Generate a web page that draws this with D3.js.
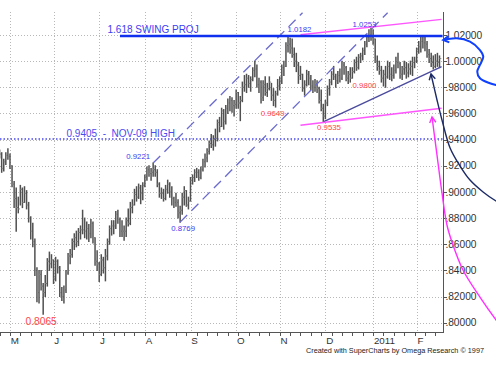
<!DOCTYPE html>
<html><head><meta charset="utf-8">
<script src="https://cdn.jsdelivr.net/npm/d3@7"></script>
<style>
body{margin:0;background:#fff;}
svg{display:block;font-family:Arial,"Liberation Sans",sans-serif;}
</style>
</head><body>
<svg id="c" width="496" height="366"></svg>
<script>
// ---------- DATA (AUD/USD daily bars, first bar = Mon 2010-04-26, weekdays only) ----------
const startDate = "2010-04-26";
const highs = [
 .9320,.9300,.9250,.9300,.9330, .9290,.9200,.9080,.9030,.8960, .9050,.9030,.9040,.9010,.8920,
 .8810,.8760,.8640,.8420,.8400, .8400,.8300,.8360,.8490,.8540, .8520,.8480,.8500,.8480,.8430,
 .8270,.8280,.8400,.8530,.8560, .8640,.8680,.8700,.8720,.8740, .8860,.8800,.8770,.8750,.8790,
 .8770,.8650,.8550,.8460,.8520, .8500,.8560,.8640,.8740,.8780, .8780,.8850,.8860,.8800,.8780,
 .8740,.8800,.8870,.8920,.8940, .9020,.9040,.9060,.9050,.9070, .9130,.9190,.9200,.9180,.9221,
 .9200,.9170,.9070,.9030,.9020, .9050,.9090,.9070,.9040,.8960, .8990,.8940,.8890,.8990,.9040,
 .9010,.8960,.9110,.9130,.9170, .9180,.9170,.9190,.9250,.9290, .9330,.9390,.9440,.9430,.9480,
 .9550,.9570,.9640,.9630,.9660, .9710,.9730,.9720,.9700,.9780, .9760,.9730,.9840,.9890,.9900,
 .9890,.9880,.9950,1.0000,.9970, .9870,.9850,.9850,.9880,.9830, .9880,.9830,.9790,.9770,.9860,
 .9880,.9970,1.0000,1.0140,1.0182, 1.0175,1.0170,1.0100,1.0060,.9990, .9960,.9900,.9850,.9930,.9920,
 .9890,.9850,.9860,.9850,.9800, .9780,.9670,.9700,.9810,.9860, .9920,.9960,.9900,.9920,.9940,
 1.0000,.9990,.9960,.9920,.9950, .9950,1.0010,1.0030,1.0050,1.0060, 1.0100,1.0150,1.0200,1.0240,1.0253,
 1.0240,1.0170,1.0040,1.0000,.9960, .9930,.9960,1.0000,.9990,.9950, .9970,1.0030,1.0060,.9990,.9960,
 1.0000,.9990,.9980,1.0000,1.0030, 1.0030,1.0100,1.0150,1.0180,1.0197, 1.0180,1.0150,1.0090,1.0060,1.0040,
 1.0050,1.0060,1.0040
];
const lows = [
 .9260,.9150,.9160,.9210,.9250, .9180,.9040,.8880,.8700,.8840, .8900,.8880,.8920,.8870,.8770,
 .8640,.8580,.8360,.8160,.8150, .8250,.8065,.8200,.8280,.8400, .8420,.8300,.8320,.8380,.8200,
 .8170,.8150,.8230,.8370,.8450, .8500,.8560,.8580,.8590,.8640, .8680,.8650,.8640,.8620,.8650,
 .8610,.8440,.8400,.8315,.8360, .8380,.8320,.8480,.8600,.8670, .8680,.8720,.8760,.8660,.8660,
 .8630,.8660,.8740,.8750,.8840, .8900,.8930,.8950,.8910,.8940, .9040,.9090,.9120,.9090,.9120,
 .9120,.9040,.8960,.8950,.8930, .8940,.8990,.8960,.8900,.8880, .8890,.8800,.8769,.8830,.8900,
 .8890,.8870,.8930,.9060,.9080, .9110,.9090,.9100,.9160,.9190, .9230,.9290,.9340,.9320,.9350,
 .9390,.9460,.9500,.9480,.9520, .9600,.9620,.9610,.9580,.9640, .9640,.9545,.9690,.9770,.9760,
 .9800,.9770,.9850,.9880,.9800, .9760,.9680,.9700,.9740,.9730, .9780,.9700,.9660,.9649,.9740,
 .9780,.9830,.9890,.9960,1.0070, 1.0060,1.0030,.9960,.9920,.9830, .9860,.9770,.9740,.9810,.9820,
 .9780,.9760,.9770,.9760,.9680, .9620,.9535,.9560,.9660,.9740, .9820,.9860,.9800,.9830,.9840,
 .9860,.9900,.9850,.9830,.9840, .9870,.9910,.9930,.9940,.9990, 1.0010,1.0050,1.0110,1.0150,1.0160,
 1.0130,.9990,.9930,.9900,.9840, .9810,.9800,.9870,.9860,.9850, .9870,.9910,.9950,.9870,.9860,
 .9900,.9870,.9880,.9900,.9890, .9950,.9990,1.0060,1.0070,1.0100, 1.0080,1.0030,.9990,.9960,.9940,
 .9950,.9960,.9950
];
const closes = [
 .9290,.9180,.9230,.9280,.9270, .9200,.9060,.8950,.8880,.8870, .9020,.8920,.8990,.8900,.8800,
 .8700,.8620,.8400,.8230,.8370, .8280,.8230,.8300,.8470,.8450, .8480,.8340,.8470,.8420,.8230,
 .8200,.8250,.8380,.8510,.8520, .8620,.8650,.8620,.8690,.8710, .8710,.8700,.8720,.8680,.8760,
 .8650,.8470,.8450,.8370,.8480, .8420,.8510,.8620,.8720,.8740, .8740,.8830,.8790,.8700,.8700,
 .8700,.8780,.8760,.8880,.8900, .8980,.8960,.9030,.8990,.9050, .9120,.9170,.9140,.9150,.9170,
 .9150,.9060,.8990,.8990,.8950, .9020,.9060,.9000,.8950,.8920, .8920,.8840,.8860,.8960,.9010,
 .8900,.8930,.9090,.9110,.9150, .9150,.9110,.9170,.9230,.9260, .9310,.9370,.9360,.9400,.9410,
 .9530,.9500,.9620,.9540,.9640, .9680,.9700,.9660,.9670,.9760, .9680,.9700,.9800,.9820,.9870,
 .9830,.9860,.9930,.9940,.9820, .9840,.9720,.9820,.9760,.9790, .9840,.9740,.9700,.9750,.9810,
 .9850,.9950,.9960,1.0120,1.0130, 1.0100,1.0050,1.0000,.9970,.9890, .9900,.9790,.9820,.9900,.9870,
 .9810,.9800,.9830,.9790,.9700, .9640,.9580,.9680,.9790,.9840, .9900,.9880,.9850,.9890,.9870,
 .9970,.9950,.9870,.9900,.9870, .9920,.9990,.9950,1.0030,1.0040, 1.0080,1.0130,1.0180,1.0200,1.0180,
 1.0170,1.0000,.9960,.9930,.9870, .9900,.9880,.9960,.9900,.9890, .9930,.9990,.9980,.9900,.9940,
 .9950,.9910,.9940,.9960,.9990, 1.0000,1.0090,1.0110,1.0150,1.0140, 1.0130,1.0050,1.0020,.9990,.9960,
 1.0000,.9990,1.0020
];
const yTicks = [0.80,0.82,0.84,0.86,0.88,0.90,0.92,0.94,0.96,0.98,1.00,1.02];
const monthStarts = ["2010-05-03","2010-06-01","2010-07-01","2010-08-02","2010-09-01","2010-10-01","2010-11-01","2010-12-01","2011-01-03","2011-02-01"];
const monthLabels = ["M","J","J","A","S","O","N","D","2011","F"];
const axisEndDate = "2011-02-17";

// pivot labels
const pivotDates  = ["2010-05-25","2010-08-06","2010-08-25","2010-10-28","2010-11-05","2010-11-30","2010-12-31","2011-01-11"];
const pivotValues = [0.8065,0.9221,0.8769,0.9649,1.0182,0.9535,1.0253,0.9800];
const pivotTexts  = ["0.8065","0.9221","0.8769","0.9649","1.0182","0.9535","1.0253","0.9800"];
const pivotKinds  = ["red","blue","blue","red","blue","red","blue","red"];

// horizontal levels
const swingProjLevel = 1.0192, swingProjStart = "2010-07-15", swingProjText = "1.618 SWING PROJ";
const nov09High = 0.9405, nov09Text = "0.9405  -  NOV-09 HIGH";

// trend lines [date, value] -> [date, value]
const channelUpper = [["2010-08-06",0.9221],["2010-11-16",1.0370]];
const channelLower = [["2010-08-25",0.8769],["2011-01-12",1.0370]];
const supportLine  = [["2010-11-30",0.9535],["2011-02-17",0.9958]];
const pinkUpper    = [["2010-11-15",1.0202],["2011-02-17",1.0320]];
const pinkLower    = [["2010-11-15",0.9510],["2011-02-17",0.9640]];

// hand-drawn arrows: [bar index from first bar, value]
const pinkArrow = [[208.4,.9573],[210.8,.9282],[213.2,.8992],[215.6,.8747],[218.0,.8617],[223.3,.8403],[231.5,.8196],[239.2,.8021],[248.4,.7829]];
const navyArrow = [[207.9,.9902],[210.8,.9703],[213.2,.9550],[217.1,.9336],[221.9,.9198],[226.7,.9091],[233.0,.9000],[239.2,.8931],[246.9,.8869]];
const blueArrow = [[213.8,1.0162],[220.3,1.0175],[226.7,1.0149],[231.5,1.0085],[233.1,1.0034],[231.5,.9971],[230.2,.9919],[231.5,.9869],[236.3,.9831],[239.2,.9818],[246.9,.9795]];

// ---------- DRAW ----------
const svg = d3.select("#c");
const d0 = new Date(startDate + "T00:00:00Z");
function tIdx(s){
  const d = new Date(s + "T00:00:00Z");
  const days = Math.round((d - d0) / 864e5);
  return Math.floor(days / 7) * 5 + Math.min(days % 7, 5);
}
const N = highs.length;
const x = d3.scaleLinear().domain([0, N - 1]).range([-0.4, -0.4 + 2.075 * (N - 1)]);
const y = d3.scaleLinear().domain([0.80, 1.02]).range([322.7, 35]);
const axisX = x(tIdx(axisEndDate)) + 1;
const plotTop = 12, axisY = 331.7;

const grid = svg.append("g").attr("stroke", "#b8b8b8").attr("stroke-dasharray", "1,2").attr("shape-rendering", "crispEdges");
yTicks.forEach(v => {
  const yy = Math.round(y(v)) + 0.5;
  grid.append("line").attr("x1", 0).attr("x2", axisX).attr("y1", yy).attr("y2", yy);
});
monthStarts.forEach(s => {
  const xx = Math.round(x(tIdx(s))) + 0.5;
  grid.append("line").attr("x1", xx).attr("x2", xx).attr("y1", plotTop).attr("y2", axisY);
});

// Nov-09 high dotted line
svg.append("line").attr("x1", 0).attr("x2", axisX).attr("y1", y(nov09High)).attr("y2", y(nov09High))
  .attr("stroke", "#4a4af0").attr("stroke-width", 1.5).attr("stroke-dasharray", "1.5,2");

// bars (high-low-close)
const bars = svg.append("g");
d3.range(N).forEach(i => {
  const xx = x(i);
  bars.append("line").attr("x1", xx).attr("x2", xx).attr("y1", y(highs[i]) - 0.5).attr("y2", y(lows[i]) + 0.5)
    .attr("stroke", "#505050").attr("stroke-width", 1.5);
  bars.append("line").attr("x1", xx).attr("x2", xx + 1.8).attr("y1", y(closes[i])).attr("y2", y(closes[i]))
    .attr("stroke", "#888").attr("stroke-width", 1);
});

function seg(pts, color, w, dash){
  const l = svg.append("line")
    .attr("x1", x(tIdx(pts[0][0]))).attr("y1", y(pts[0][1]))
    .attr("x2", x(tIdx(pts[1][0]))).attr("y2", y(pts[1][1]))
    .attr("stroke", color).attr("stroke-width", w);
  if (dash) l.attr("stroke-dasharray", dash);
}
seg(channelUpper, "#6b6bd0", 1.3, "10,6");
seg(channelLower, "#6b6bd0", 1.3, "10,6");
seg(supportLine, "#4b4b9e", 1.4);
seg(pinkUpper, "#ff55ff", 1.3);
seg(pinkLower, "#ff55ff", 1.3);

// swing projection line
svg.append("line").attr("x1", x(tIdx(swingProjStart))).attr("x2", axisX)
  .attr("y1", y(swingProjLevel)).attr("y2", y(swingProjLevel))
  .attr("stroke", "#1030f0").attr("stroke-width", 2.6);

// level texts
svg.append("text").attr("x", 107.5).attr("y", y(swingProjLevel) - 2.7)
  .attr("font-size", 10).attr("fill", "#3c3cf2").text(swingProjText);
svg.append("text").attr("x", 66.5).attr("y", y(nov09High) - 1.7)
  .attr("font-size", 10).attr("fill", "#4a4af0").style("white-space", "pre").text(nov09Text);

// pivot labels (offsets in px from the pivot bar)
const pivotOffsets = [[-2, 10.7],[-15,-4],[3,8.6],[-3,8.6],[11.5,-5.3],[5.7,8],[-6.5,-1.3],[-21,1]];
pivotDates.forEach((s, k) => {
  const big = pivotTexts[k] === "0.8065";
  svg.append("text")
    .attr("x", x(tIdx(s)) + pivotOffsets[k][0])
    .attr("y", y(pivotValues[k]) + pivotOffsets[k][1])
    .attr("text-anchor", "middle")
    .attr("font-size", big ? 10.2 : 7.8)
    .attr("fill", pivotKinds[k] === "red" ? "#ff4646" : "#3c3cf2")
    .text(pivotTexts[k]);
});

// axes
const ax = svg.append("g").attr("stroke", "#555").attr("shape-rendering", "crispEdges");
ax.append("line").attr("x1", 0).attr("x2", axisX).attr("y1", Math.round(axisY) + 0.5).attr("y2", Math.round(axisY) + 0.5);
ax.append("line").attr("x1", Math.round(axisX) + 0.5).attr("x2", Math.round(axisX) + 0.5).attr("y1", plotTop).attr("y2", Math.round(axisY) + 0.5);
yTicks.forEach(v => {
  const yy = Math.round(y(v)) + 0.5;
  ax.append("line").attr("x1", Math.round(axisX)).attr("x2", Math.round(axisX) + 4).attr("y1", yy).attr("y2", yy);
  svg.append("text").attr("x", axisX + 2.8).attr("y", y(v) + 3.6).attr("font-size", 10.2).attr("fill", "#333")
    .text(v >= 1 ? v.toFixed(5) : v.toFixed(5).slice(1));
});
// weekly ticks on Mondays
d3.range(tIdx(axisEndDate) + 1).forEach(i => {
  if (i % 5 === 0) {
    const xx = Math.round(x(i)) + 0.5;
    ax.append("line").attr("x1", xx).attr("x2", xx).attr("y1", axisY).attr("y2", axisY + 4);
  }
});
monthStarts.forEach((s, k) => {
  svg.append("text").attr("x", x(tIdx(s)) + 0.8).attr("y", 343.5).attr("font-size", 9.8).attr("fill", "#333").text(monthLabels[k]);
});
svg.append("text").attr("x", 306).attr("y", 352.5).attr("font-size", 7.6).attr("fill", "#222")
  .attr("textLength", 178).attr("lengthAdjust", "spacingAndGlyphs")
  .text("Created with SuperCharts by Omega Research \u00A9 1997");

// arrows
const curve = d3.line().x(d => x(d[0])).y(d => y(d[1])).curve(d3.curveCatmullRom.alpha(0.5));
function arrow(pts, color, w){
  svg.append("path").attr("d", curve(pts)).attr("fill", "none").attr("stroke", color).attr("stroke-width", w);
  const tx = x(pts[0][0]), ty = y(pts[0][1]);
  const ang = Math.atan2(y(pts[1][1]) - ty, x(pts[1][0]) - tx);
  const L = 6.5, a = 0.5;
  const p = [[tx + L * Math.cos(ang - a), ty + L * Math.sin(ang - a)], [tx, ty], [tx + L * Math.cos(ang + a), ty + L * Math.sin(ang + a)]];
  svg.append("path").attr("d", d3.line()(p)).attr("fill", "none").attr("stroke", color).attr("stroke-width", w);
}
arrow(pinkArrow, "#ff30ff", 1.4);
arrow(navyArrow, "#1c2a66", 1.4);
arrow(blueArrow, "#1040ff", 2.0);
</script>
</body></html>
